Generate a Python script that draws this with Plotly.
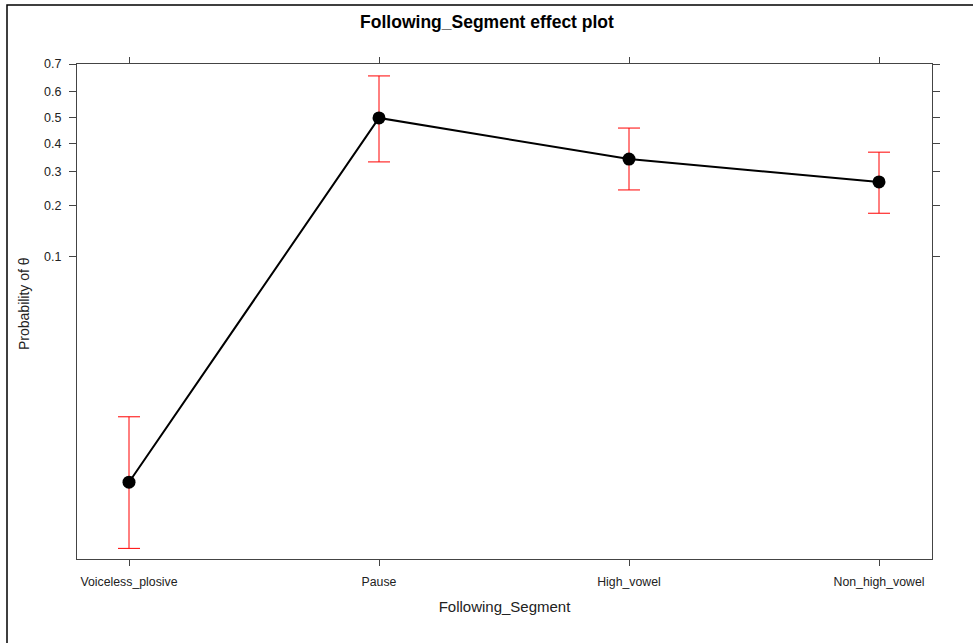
import numpy as np
import plotly.graph_objects as go

categories = ["Voiceless_plosive", "Pause", "High_vowel", "Non_high_vowel"]
prob = [0.00315, 0.499, 0.342, 0.266]
upper = [0.0088, 0.659, 0.459, 0.367]
lower = [0.00111, 0.332, 0.242, 0.181]
tick_probs = [0.1, 0.2, 0.3, 0.4, 0.5, 0.6, 0.7]
tick_labels = ["0.1", "0.2", "0.3", "0.4", "0.5", "0.6", "0.7"]


def logit(p):
    p = np.asarray(p, dtype=float)
    return np.log(p / (1 - p))


xi = list(range(len(categories)))
y = logit(prob)
yu = logit(upper)
yl = logit(lower)

fig = go.Figure()
fig.add_trace(go.Scatter(
    x=xi, y=y, mode="lines+markers",
    line=dict(color="black", width=2),
    marker=dict(color="black", size=13),
    error_y=dict(type="data", symmetric=False, array=yu - y, arrayminus=y - yl,
                 color="#ff0000", thickness=1, width=11),
    showlegend=False,
))

FONT = "Liberation Sans, Arial, sans-serif"
fig.update_layout(
    width=973, height=643,
    margin=dict(l=77, r=41, t=64, b=84),
    paper_bgcolor="white", plot_bgcolor="white",
    font=dict(family=FONT, color="#222"),
    title=dict(text="<b>Following_Segment effect plot</b>", x=487 / 973, xanchor="center",
               y=1 - 22 / 643, yanchor="middle", font=dict(size=17.5, color="black", family=FONT)),
    xaxis=dict(
        range=[-0.208, 3.212], tickmode="array", tickvals=xi, ticktext=categories,
        showgrid=False, zeroline=False, showline=True, linecolor="#444", linewidth=1,
        mirror="ticks", ticks="outside", ticklen=6, tickcolor="#444",
        ticklabelstandoff=5,
        tickfont=dict(size=12.3, family=FONT, color="#222"),
        title=dict(text="Following_Segment", font=dict(size=15, family=FONT, color="#222"), standoff=13),
    ),
    yaxis=dict(
        range=[-6.97, float(logit(0.7))], tickmode="array",
        tickvals=list(logit(tick_probs)), ticktext=tick_labels,
        showgrid=False, zeroline=False, showline=True, linecolor="#444", linewidth=1,
        mirror="ticks", ticks="outside", ticklen=7, tickcolor="#444",
        ticklabelstandoff=5,
        tickfont=dict(size=12.5, family=FONT, color="#222"),
    ),
    annotations=[dict(
        text="Probability of θ", textangle=-90, xref="paper", yref="paper",
        x=(24 - 77) / 855, y=(559 - 304) / 495, xanchor="center", yanchor="middle",
        showarrow=False, font=dict(size=14, family=FONT, color="#222"),
    )],
    shapes=[dict(
        type="rect", xref="paper", yref="paper",
        x0=(7 - 77) / 855, x1=1.2, y0=-0.3, y1=1 + (64 - 5) / 495,
        line=dict(color="black", width=1.5), fillcolor="rgba(0,0,0,0)",
    )],
)

fig.write_html("out.html")
